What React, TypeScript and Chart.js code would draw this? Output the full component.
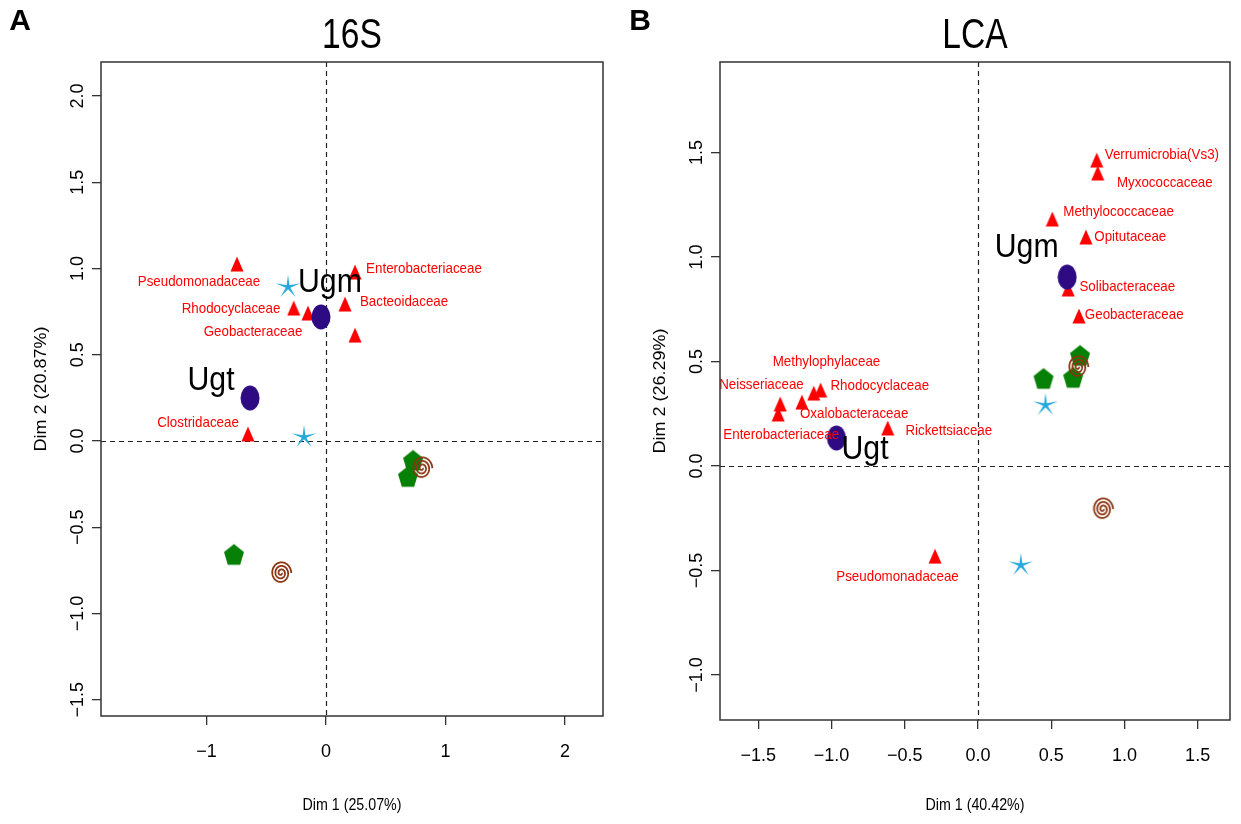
import React, { useEffect, useRef } from "react";
import { Chart, registerables } from "chart.js";
Chart.register(...registerables);

// ---------------- Panel A : 16S ----------------
const A_TRIANGLES = [[-0.745, 1.026], [0.243, 0.98], [-0.27, 0.771], [-0.151, 0.742], [0.159, 0.794], [0.243, 0.614], [-0.653, 0.041]];
const A_ELLIPSES = [[-0.042, 0.719], [-0.636, 0.249]];
const A_STARS = [[-0.318, 0.893], [-0.184, 0.023]];
const A_PENTAGONS = [[-0.77, -0.655], [0.728, -0.11], [0.686, -0.203]];
const A_SPIRALS = [[0.803, -0.157], [-0.377, -0.765]];
const A_LABELS = ["Pseudomonadaceae", "Enterobacteriaceae", "Rhodocyclaceae", "Bacteoidaceae", "Geobacteraceae", "Clostridaceae"];
const A_LABEL_XY = [[-1.063, 0.922], [0.82, 0.997], [-0.795, 0.765], [0.653, 0.806], [-0.611, 0.632], [-1.071, 0.104]];
const A_GROUPS = ["Ugm", "Ugt"];
const A_GROUP_XY = [[0.033, 0.916], [-0.962, 0.348]];
const A_X_TICKS = [-1, 0, 1, 2];
const A_X_TICK_LABELS = ["\u22121", "0", "1", "2"];
const A_Y_TICKS = [-1.5, -1, -0.5, 0, 0.5, 1, 1.5, 2];
const A_Y_TICK_LABELS = ["\u22121.5", "\u22121.0", "\u22120.5", "0.0", "0.5", "1.0", "1.5", "2.0"];

// ---------------- Panel B : LCA ----------------
const B_TRIANGLES = [[-1.35, 0.297], [-1.364, 0.249], [-1.202, 0.306], [-1.121, 0.349], [-1.074, 0.364], [-0.616, 0.182], [-0.293, -0.431], [0.811, 1.464], [0.818, 1.402], [0.508, 1.182], [0.737, 1.096], [0.616, 0.847], [0.69, 0.718]];
const B_ELLIPSES = [[0.609, 0.904], [-0.966, 0.134]];
const B_STARS = [[0.461, 0.292], [0.293, -0.474]];
const B_PENTAGONS = [[0.697, 0.531], [0.448, 0.421], [0.65, 0.426]];
const B_SPIRALS = [[0.684, 0.474], [0.852, -0.206]];
const B_LABELS = ["Methylophylaceae", "Neisseriaceae", "Rhodocyclaceae", "Oxalobacteraceae", "Enterobacteriaceae", "Rickettsiaceae", "Pseudomonadaceae", "Verrumicrobia(Vs3)", "Myxococcaceae", "Methylococcaceae", "Opitutaceae", "Solibacteraceae", "Geobacteraceae"];
const B_LABEL_XY = [[-1.034, 0.498], [-1.478, 0.388], [-0.67, 0.383], [-0.845, 0.249], [-1.343, 0.148], [-0.199, 0.167], [-0.549, -0.531], [1.256, 1.488], [1.276, 1.354], [0.96, 1.215], [1.04, 1.096], [1.02, 0.856], [1.067, 0.722]];
const B_GROUPS = ["Ugm", "Ugt"];
const B_GROUP_XY = [[0.333, 1.043], [-0.771, 0.077]];
const B_X_TICKS = [-1.5, -1, -0.5, 0, 0.5, 1, 1.5];
const B_X_TICK_LABELS = ["\u22121.5", "\u22121.0", "\u22120.5", "0.0", "0.5", "1.0", "1.5"];
const B_Y_TICKS = [-1, -0.5, 0, 0.5, 1, 1.5];
const B_Y_TICK_LABELS = ["\u22121.0", "\u22120.5", "0.0", "0.5", "1.0", "1.5"];

const SANS = '"Liberation Sans", Arial, Helvetica, sans-serif';
const NARROW = '"Liberation Sans Narrow", "Liberation Sans", Arial, sans-serif';
const SQ = 0.89;

function mk(w: number, h: number, draw: (c: CanvasRenderingContext2D, w: number, h: number) => void) {
  const cv = document.createElement("canvas");
  cv.width = w;
  cv.height = h;
  draw(cv.getContext("2d") as CanvasRenderingContext2D, w, h);
  return cv;
}

function makeMarkers() {
  const triangle = mk(14, 16, (c, w, h) => {
    c.fillStyle = "#FF0000";
    c.beginPath();
    c.moveTo(w / 2, 0.5);
    c.lineTo(w - 0.5, h - 0.5);
    c.lineTo(0.5, h - 0.5);
    c.closePath();
    c.fill();
  });
  const ellipse = mk(20, 26, (c, w, h) => {
    c.fillStyle = "#2E0B82";
    c.beginPath();
    c.ellipse(w / 2, h / 2, w / 2 - 0.5, h / 2 - 0.5, 0, 0, Math.PI * 2);
    c.fill();
  });
  const star = mk(28, 28, (c, w, h) => {
    c.fillStyle = "#22A8DD";
    c.beginPath();
    for (let i = 0; i < 10; i++) {
      const r = i % 2 === 0 ? 13 : 2.4;
      const a = -Math.PI / 2 + (i * Math.PI) / 5;
      const px = w / 2 + r * Math.cos(a);
      const py = h / 2 + r * Math.sin(a) * 0.95;
      if (i === 0) c.moveTo(px, py);
      else c.lineTo(px, py);
    }
    c.closePath();
    c.fill();
  });
  const pentagon = mk(22, 25, (c, w, h) => {
    c.fillStyle = "#078007";
    c.beginPath();
    for (let i = 0; i < 5; i++) {
      const a = -Math.PI / 2 + (i * 2 * Math.PI) / 5;
      const px = w / 2 + 10.5 * Math.cos(a);
      const py = h / 2 + 1.5 + 11.5 * Math.sin(a);
      if (i === 0) c.moveTo(px, py);
      else c.lineTo(px, py);
    }
    c.closePath();
    c.fill();
  });
  const spiral = mk(24, 26, (c, w, h) => {
    c.strokeStyle = "#8B3512";
    c.lineWidth = 1.8;
    c.beginPath();
    const N = 240;
    const turns = 3;
    for (let i = 0; i <= N; i++) {
      const t = i / N;
      const th = t * turns * 2 * Math.PI;
      const r = 0.8 + t * 9.5;
      const px = w / 2 + r * Math.cos(th);
      const py = h / 2 + r * Math.sin(th) * 1.12;
      if (i === 0) c.moveTo(px, py);
      else c.lineTo(px, py);
    }
    c.stroke();
  });
  return { triangle, ellipse, star, pentagon, spiral };
}

function drawText(
  ctx: CanvasRenderingContext2D,
  text: string,
  x: number,
  y: number,
  font: string,
  color: string,
  sx: number,
  rot = 0
) {
  ctx.save();
  ctx.translate(x, y);
  ctx.scale(sx, 1);
  if (rot) ctx.rotate(rot);
  ctx.font = font;
  ctx.fillStyle = color;
  ctx.textAlign = "center";
  ctx.textBaseline = "middle";
  ctx.fillText(text, 0, 0);
  ctx.restore();
}

type PanelCfg = {
  letter: string;
  title: string;
  xTitle: string;
  yTitle: string;
  xMin: number;
  xMax: number;
  yMin: number;
  yMax: number;
  xTicks: number[];
  xTickLabels: string[];
  yTicks: number[];
  yTickLabels: string[];
  yAxisWidth: number;
  xAxisHeight: number;
  padRight: number;
  triangles: number[][];
  ellipses: number[][];
  stars: number[][];
  pentagons: number[][];
  spirals: number[][];
  labels: string[];
  labelXY: number[][];
  groups: string[];
  groupXY: number[][];
};

const PANEL_A: PanelCfg = {
  letter: "A",
  title: "16S",
  xTitle: "Dim 1 (25.07%)",
  yTitle: "Dim 2 (20.87%)",
  xMin: -1.883,
  xMax: 2.318,
  yMin: -1.594,
  yMax: 2.197,
  xTicks: A_X_TICKS,
  xTickLabels: A_X_TICK_LABELS,
  yTicks: A_Y_TICKS,
  yTickLabels: A_Y_TICK_LABELS,
  yAxisWidth: 101,
  xAxisHeight: 108,
  padRight: 17,
  triangles: A_TRIANGLES,
  ellipses: A_ELLIPSES,
  stars: A_STARS,
  pentagons: A_PENTAGONS,
  spirals: A_SPIRALS,
  labels: A_LABELS,
  labelXY: A_LABEL_XY,
  groups: A_GROUPS,
  groupXY: A_GROUP_XY,
};

const PANEL_B: PanelCfg = {
  letter: "B",
  title: "LCA",
  xTitle: "Dim 1 (40.42%)",
  yTitle: "Dim 2 (26.29%)",
  xMin: -1.761,
  xMax: 1.721,
  yMin: -1.215,
  yMax: 1.933,
  xTicks: B_X_TICKS,
  xTickLabels: B_X_TICK_LABELS,
  yTicks: B_Y_TICKS,
  yTickLabels: B_Y_TICK_LABELS,
  yAxisWidth: 100,
  xAxisHeight: 104,
  padRight: 4,
  triangles: B_TRIANGLES,
  ellipses: B_ELLIPSES,
  stars: B_STARS,
  pentagons: B_PENTAGONS,
  spirals: B_SPIRALS,
  labels: B_LABELS,
  labelXY: B_LABEL_XY,
  groups: B_GROUPS,
  groupXY: B_GROUP_XY,
};

function makeChart(canvas: HTMLCanvasElement, P: PanelCfg) {
  const m = makeMarkers();
  const toXY = (arr: number[][]) => arr.map(([x, y]) => ({ x, y }));
  const ds = (data: number[][], style: HTMLCanvasElement) => ({
    data: toXY(data),
    pointStyle: style,
    pointRadius: 10,
    pointHoverRadius: 10,
    showLine: false,
    backgroundColor: "rgba(0,0,0,0)",
    borderColor: "rgba(0,0,0,0)",
  });

  const deco = {
    id: "deco",
    beforeDatasetsDraw(chart: any) {
      const { ctx, chartArea: a, scales } = chart;
      const x0 = Math.round(scales.x.getPixelForValue(0)) + 0.5;
      const y0 = Math.round(scales.y.getPixelForValue(0)) + 0.5;
      ctx.save();
      ctx.beginPath();
      ctx.rect(a.left, a.top, a.right - a.left, a.bottom - a.top);
      ctx.clip();
      ctx.setLineDash([5, 4]);
      ctx.strokeStyle = "#222";
      ctx.lineWidth = 1.2;
      ctx.beginPath();
      ctx.moveTo(x0, a.top);
      ctx.lineTo(x0, a.bottom);
      ctx.moveTo(a.left, y0);
      ctx.lineTo(a.right, y0);
      ctx.stroke();
      ctx.restore();
    },
    afterDatasetsDraw(chart: any) {
      const { ctx, chartArea: a, scales } = chart;
      const sx = scales.x;
      const sy = scales.y;
      P.labels.forEach((t, i) => {
        const [vx, vy] = P.labelXY[i];
        drawText(ctx, t, sx.getPixelForValue(vx), sy.getPixelForValue(vy), `15px ${SANS}`, "#FF0000", SQ);
      });
      P.groups.forEach((t, i) => {
        const [vx, vy] = P.groupXY[i];
        drawText(ctx, t, sx.getPixelForValue(vx), sy.getPixelForValue(vy), `34px ${SANS}`, "#000", SQ);
      });
      ctx.save();
      ctx.strokeStyle = "#333";
      ctx.lineWidth = 1.5;
      ctx.setLineDash([]);
      ctx.strokeRect(a.left, a.top, a.right - a.left, a.bottom - a.top);
      ctx.restore();
      const cx = (a.left + a.right) / 2;
      const cy = (a.top + a.bottom) / 2;
      drawText(ctx, P.title, cx, 36, `42px ${SANS}`, "#000", 0.8);
      drawText(ctx, P.letter, 20, 22, `bold 30px ${SANS}`, "#000", 1);
      drawText(ctx, P.xTitle, cx, 806, `16px ${SANS}`, "#000", SQ);
      ctx.save();
      ctx.translate(a.left - 59, cy);
      ctx.scale(SQ, 1);
      ctx.rotate(-Math.PI / 2);
      ctx.font = `18px ${SANS}`;
      ctx.fillStyle = "#000";
      ctx.textAlign = "center";
      ctx.textBaseline = "middle";
      ctx.fillText(P.yTitle, 0, 0);
      ctx.restore();
    },
  };

  const tickFont = { family: NARROW, size: 18 };

  return new Chart(canvas, {
    type: "scatter",
    data: {
      datasets: [
        ds(P.ellipses, m.ellipse),
        ds(P.stars, m.star),
        ds(P.spirals, m.spiral),
        ds(P.pentagons, m.pentagon),
        ds(P.triangles, m.triangle),
      ],
    },
    options: {
      responsive: false,
      animation: false,
      devicePixelRatio: 1,
      layout: { padding: { top: 62, right: P.padRight, left: 0, bottom: 0 } },
      plugins: { legend: { display: false }, tooltip: { enabled: false }, title: { display: false } },
      scales: {
        x: {
          type: "linear",
          min: P.xMin,
          max: P.xMax,
          border: { display: false },
          grid: { display: true, drawOnChartArea: false, drawTicks: true, tickLength: 9, color: "#333", lineWidth: 1.3 },
          afterBuildTicks: (s: any) => {
            s.ticks = P.xTicks.map((v) => ({ value: v }));
          },
          afterFit: (s: any) => {
            s.height = P.xAxisHeight;
          },
          ticks: {
            autoSkip: false,
            maxRotation: 0,
            minRotation: 0,
            padding: 16,
            color: "#000",
            font: tickFont,
            callback: (_v: any, i: number) => P.xTickLabels[i],
          },
        },
        y: {
          type: "linear",
          min: P.yMin,
          max: P.yMax,
          border: { display: false },
          grid: { display: true, drawOnChartArea: false, drawTicks: true, tickLength: 9, color: "#333", lineWidth: 1.3 },
          afterBuildTicks: (s: any) => {
            s.ticks = P.yTicks.map((v) => ({ value: v }));
          },
          afterFit: (s: any) => {
            s.width = P.yAxisWidth;
          },
          ticks: {
            autoSkip: false,
            minRotation: 90,
            maxRotation: 90,
            crossAlign: "center",
            padding: -4,
            color: "#000",
            font: tickFont,
            callback: (_v: any, i: number) => P.yTickLabels[i],
          },
        },
      },
    } as any,
    plugins: [deco],
  });
}

function Panel({ cfg, left, width }: { cfg: PanelCfg; left: number; width: number }) {
  const ref = useRef<HTMLCanvasElement>(null);
  useEffect(() => {
    if (!ref.current) return;
    const chart = makeChart(ref.current, cfg);
    return () => chart.destroy();
  }, [cfg]);
  return (
    <canvas
      ref={ref}
      width={width}
      height={824}
      style={{ position: "absolute", left, top: 0, width, height: 824, display: "block" }}
    />
  );
}

export default function App() {
  return (
    <div style={{ position: "absolute", left: 0, top: 0, width: 1241, height: 824, background: "#fff", overflow: "hidden" }}>
      <Panel cfg={PANEL_A} left={0} width={620} />
      <Panel cfg={PANEL_B} left={620} width={621} />
    </div>
  );
}
